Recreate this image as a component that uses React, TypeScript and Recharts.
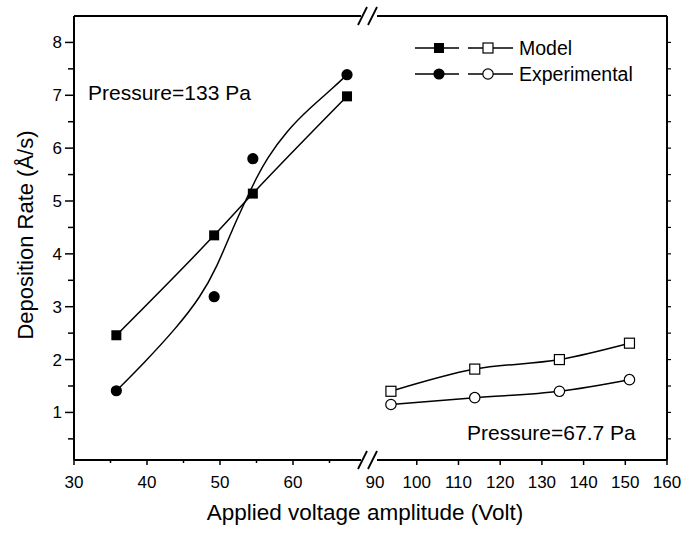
import React from "react";
import { LineChart, Line, XAxis, YAxis, Legend, ReferenceLine } from "recharts";

// voltage (V) vs deposition rate (Å/s)
const leftVolts = [35.8, 49.2, 54.5, 67.4];
const leftModel = [2.46, 4.35, 5.14, 6.98];
const leftExp = [1.41, 3.19, 5.8, 7.39];
// the smooth fit drawn through the 133 Pa experimental points
const leftFitVolts = [35.8, 39.5, 44.1, 47.3, 49.55, 51.8, 53.65, 55.0, 56.4, 59.1, 62.3, 65.5, 67.4];
const leftFit = [1.41, 1.92, 2.61, 3.18, 3.74, 4.5, 5.05, 5.44, 5.8, 6.32, 6.76, 7.14, 7.39];

const rightVolts = [93.8, 113.9, 134.2, 151.0];
const rightModel = [1.4, 1.82, 2.0, 2.31];
const rightExp = [1.15, 1.28, 1.4, 1.62];

const leftTicks = [30, 35, 40, 45, 50, 55, 60, 65];
const rightTicks = [90, 95, 100, 105, 110, 115, 120, 125, 130, 135, 140, 145, 150, 155, 160];
const yTicks = [0.5, 1, 1.5, 2, 2.5, 3, 3.5, 4, 4.5, 5, 5.5, 6, 6.5, 7, 7.5, 8];

const Y_MIN = 0.1;
const Y_MAX = 8.5;

const pts = (xs: number[], ys: number[]) => xs.map((x, i) => ({ x, y: ys[i] }));

const FONT = "Arial, 'Liberation Sans', sans-serif";
const H = 533;
const M = { top: 16, bottom: 43 };

const square = (filled: boolean) => (p: any) => (
  <rect
    key={`s${p.index}`}
    x={p.cx - 5}
    y={p.cy - 5}
    width={10}
    height={10}
    fill={filled ? "#000" : "#fff"}
    stroke="#000"
    strokeWidth={filled ? 0 : 1.2}
  />
);
const circle = (filled: boolean) => (p: any) => (
  <circle
    key={`c${p.index}`}
    cx={p.cx}
    cy={p.cy}
    r={filled ? 5.6 : 5.2}
    fill={filled ? "#000" : "#fff"}
    stroke="#000"
    strokeWidth={filled ? 0 : 1.2}
  />
);

const YTick = (p: any) => {
  const major = Number.isInteger(p.payload.value);
  return (
    <g>
      <line x1={p.x - (major ? 9 : 6)} x2={p.x} y1={p.y} y2={p.y} stroke="#000" strokeWidth={1.5} />
      {major && (
        <text x={p.x - 12} y={p.y} dy={6} textAnchor="end" fontSize={17} fontFamily={FONT} fill="#000">
          {p.payload.value}
        </text>
      )}
    </g>
  );
};

// right frame: short outward ticks, no labels
const RightTick = (p: any) => (
  <line x1={p.x} x2={p.x + 4} y1={p.y} y2={p.y} stroke="#000" strokeWidth={1.2} />
);

const XTick = (p: any) => {
  const major = p.payload.value % 10 === 0;
  return (
    <g>
      <line x1={p.x} x2={p.x} y1={p.y} y2={p.y + (major ? 5 : 3)} stroke="#000" strokeWidth={1.5} />
      {major && (
        <text x={p.x} y={p.y + 28} textAnchor="middle" fontSize={17} fontFamily={FONT} fill="#000">
          {p.payload.value}
        </text>
      )}
    </g>
  );
};

// top frame: tiny inward ticks
const TopTick = (p: any) => (
  <line x1={p.x} x2={p.x} y1={p.y} y2={p.y + 3} stroke="#000" strokeWidth={1} />
);

const LegendBox = () => {
  const row = (cy: number, filled: any, open: any, label: string) => (
    <g>
      <line x1={0} x2={44} y1={cy} y2={cy} stroke="#000" strokeWidth={1.5} />
      <line x1={53} x2={98} y1={cy} y2={cy} stroke="#000" strokeWidth={1.5} />
      {filled({ cx: 24, cy, index: 0 })}
      {open({ cx: 73, cy, index: 1 })}
      <text x={104} y={cy} dy={7} fontSize={19.5} fontFamily={FONT} fill="#000">
        {label}
      </text>
    </g>
  );
  return (
    <svg width={240} height={52}>
      {row(13, square(true), square(false), "Model")}
      {row(39, circle(true), circle(false), "Experimental")}
    </svg>
  );
};

const frame = { stroke: "#000", strokeWidth: 2, ifOverflow: "visible" as const };

export default function App() {
  return (
    <div style={{ position: "absolute", left: 0, top: 0, width: 686, height: H, background: "#fff" }}>
      <div style={{ position: "absolute", left: 0, top: 0 }}>
        <LineChart width={368} height={H} margin={{ top: M.top, bottom: M.bottom, left: 0, right: 2 }}>
          <XAxis
            dataKey="x"
            type="number"
            domain={[30, 70]}
            ticks={leftTicks}
            allowDataOverflow
            tickSize={0}
            tickMargin={0}
            tick={<XTick />}
            tickLine={false}
            axisLine={false}
            height={30}
          />
          <XAxis
            xAxisId="top"
            orientation="top"
            dataKey="x"
            type="number"
            domain={[30, 70]}
            ticks={leftTicks}
            allowDataOverflow
            height={0}
            tickSize={0}
            tickMargin={0}
            tick={<TopTick />}
            tickLine={false}
            axisLine={false}
          />
          <YAxis
            type="number"
            domain={[Y_MIN, Y_MAX]}
            ticks={yTicks}
            allowDataOverflow
            width={74}
            tickSize={0}
            tickMargin={0}
            tick={<YTick />}
            tickLine={false}
            axisLine={false}
          />
          <ReferenceLine y={Y_MIN} {...frame} />
          <ReferenceLine y={Y_MAX} {...frame} />
          <ReferenceLine x={30} {...frame} />
          <Line
            data={pts(leftVolts, leftModel)}
            dataKey="y"
            type="monotone"
            stroke="#000"
            strokeWidth={1.5}
            dot={square(true)}
            isAnimationActive={false}
          />
          <Line
            data={pts(leftFitVolts, leftFit)}
            dataKey="y"
            type="basis"
            stroke="#000"
            strokeWidth={1.5}
            dot={false}
            isAnimationActive={false}
          />
          <Line
            data={pts(leftVolts, leftExp)}
            dataKey="y"
            stroke="none"
            dot={circle(true)}
            isAnimationActive={false}
          />
        </LineChart>
      </div>
      <div style={{ position: "absolute", left: 340, top: 0 }}>
        <LineChart width={346} height={H} margin={{ top: M.top, bottom: M.bottom, left: 33, right: 0 }}>
          <XAxis
            dataKey="x"
            type="number"
            domain={[89.5, 160]}
            ticks={rightTicks}
            allowDataOverflow
            tickSize={0}
            tickMargin={0}
            tick={<XTick />}
            tickLine={false}
            axisLine={false}
            height={30}
          />
          <XAxis
            xAxisId="top"
            orientation="top"
            dataKey="x"
            type="number"
            domain={[89.5, 160]}
            ticks={rightTicks}
            allowDataOverflow
            height={0}
            tickSize={0}
            tickMargin={0}
            tick={<TopTick />}
            tickLine={false}
            axisLine={false}
          />
          <YAxis
            orientation="right"
            type="number"
            domain={[Y_MIN, Y_MAX]}
            ticks={yTicks}
            allowDataOverflow
            width={19}
            tickSize={0}
            tickMargin={0}
            tick={<RightTick />}
            tickLine={false}
            axisLine={false}
          />
          <ReferenceLine y={Y_MIN} {...frame} />
          <ReferenceLine y={Y_MAX} {...frame} />
          <ReferenceLine x={160} {...frame} />
          <Line
            data={pts(rightVolts, rightModel)}
            dataKey="y"
            type="monotone"
            stroke="#000"
            strokeWidth={1.5}
            dot={square(false)}
            isAnimationActive={false}
          />
          <Line
            data={pts(rightVolts, rightExp)}
            dataKey="y"
            type="monotone"
            stroke="#000"
            strokeWidth={1.5}
            dot={circle(false)}
            isAnimationActive={false}
          />
          <Legend
            layout="vertical"
            align="center"
            verticalAlign="middle"
            content={<LegendBox />}
            wrapperStyle={{ left: 75, top: 35, width: 240, height: 52 }}
          />
        </LineChart>
      </div>
      <svg
        width={686}
        height={H}
        style={{ position: "absolute", left: 0, top: 0, pointerEvents: "none" }}
        fontFamily={FONT}
      >
        {/* axis breaks */}
        <rect x={361} y={10} width={16} height={12} fill="#fff" />
        <rect x={361} y={454} width={16} height={12} fill="#fff" />
        <line x1={358} y1={25} x2={367} y2={7} stroke="#000" strokeWidth={1.8} />
        <line x1={368} y1={25} x2={377} y2={7} stroke="#000" strokeWidth={1.8} />
        <line x1={358} y1={469} x2={367} y2={451} stroke="#000" strokeWidth={1.8} />
        <line x1={368} y1={469} x2={377} y2={451} stroke="#000" strokeWidth={1.8} />
        <text x={88} y={100} fontSize={21} fill="#000">Pressure=133 Pa</text>
        <text x={467} y={440} fontSize={21} fill="#000">Pressure=67.7 Pa</text>
        <text x={365} y={520} fontSize={22.5} textAnchor="middle" fill="#000">
          Applied voltage amplitude (Volt)
        </text>
        <text x={33} y={235} fontSize={22} textAnchor="middle" fill="#000" transform="rotate(-90 33 235)">
          Deposition Rate (Å/s)
        </text>
      </svg>
    </div>
  );
}
